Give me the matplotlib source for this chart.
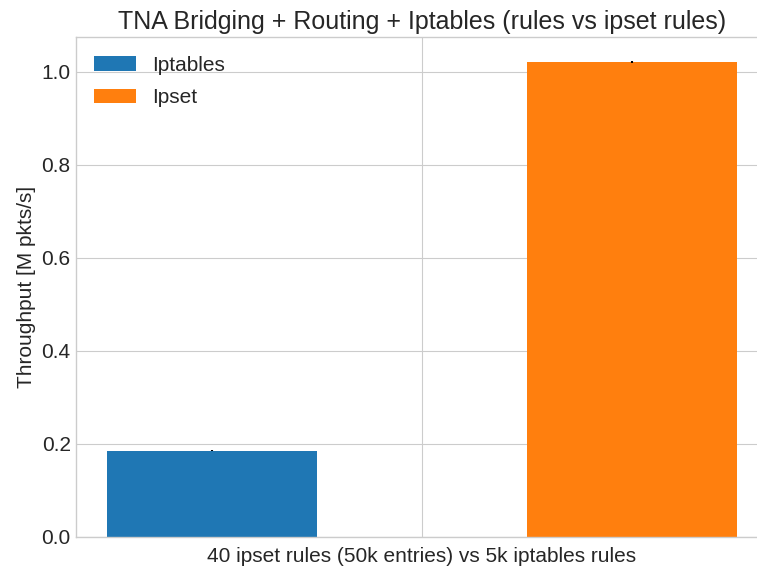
import matplotlib
matplotlib.use("Agg")
import matplotlib.pyplot as plt
import numpy as np

plt.style.use("seaborn-v0_8-whitegrid")
plt.rcParams["font.family"] = ["Liberation Sans", "DejaVu Sans"]

groups = ["40 ipset rules (50k entries) vs 5k iptables rules"]
series = ["Iptables", "Ipset"]
iptables_vals = [0.185]
ipset_vals = [1.021]
iptables_err = [0.001]
ipset_err = [0.002]

fig = plt.figure(figsize=(7.57, 5.67), dpi=100)
ax = fig.add_axes([75.5 / 757, 30 / 567, 693 / 757, 500 / 567])

x = np.arange(len(groups))
width = 0.25
ax.bar(x - width, iptables_vals, width, yerr=iptables_err, label=series[0],
       color="#1f77b4", ecolor="black")
ax.bar(x + width, ipset_vals, width, yerr=ipset_err, label=series[1],
       color="#ff7f0e", ecolor="black")

ax.set_xticks(x)
ax.set_xticklabels([""])
ax.set_xlabel(groups[0], fontsize=15)
ax.set_ylabel("Throughput [M pkts/s]", fontsize=15)
ax.set_title("TNA Bridging + Routing + Iptables (rules vs ipset rules)", fontsize=18)
ax.tick_params(axis="y", labelsize=15)
ax.set_ylim(0, 1.075)
ax.legend(loc="upper left", fontsize=15, labelspacing=0.65)

fig.savefig("out.png", dpi=100)
plt.close(fig)
